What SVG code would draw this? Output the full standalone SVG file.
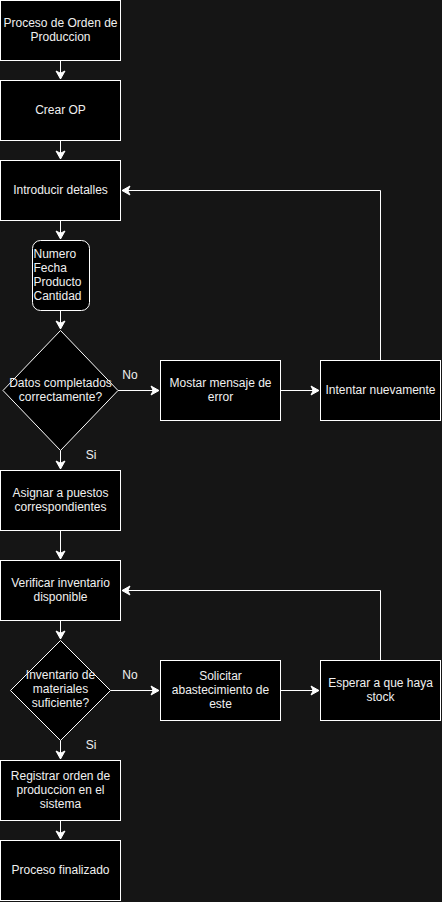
<svg xmlns="http://www.w3.org/2000/svg" width="442" height="902" viewBox="0 0 442 902">
<defs>
<marker id="arr" markerUnits="userSpaceOnUse" markerWidth="10" markerHeight="10" refX="8" refY="4.5" orient="auto" overflow="visible">
<path d="M0,0 L8,4.5 L0,9 L2.2,4.5 Z" fill="#ffffff" stroke="#ffffff" stroke-width="1"/>
</marker>
<style>
.n{fill:#000000;stroke:#ffffff;stroke-width:1}
.t{font-family:"Liberation Sans",Arial,Helvetica,sans-serif;font-size:12px;fill:#f0f0f0;text-anchor:middle}
.l{text-anchor:start}
.e{fill:none;stroke:#ffffff;stroke-width:1;marker-end:url(#arr)}
</style>
</defs>
<rect width="442" height="902" fill="#151515"/>
<g id="connectors">
<path class="e" d="M60.5,60.5 L60.5,79"/>
<path class="e" d="M60.5,140.5 L60.5,159"/>
<path class="e" d="M60.5,220.5 L60.5,239"/>
<path class="e" d="M60.5,310.5 L60.5,329"/>
<path class="e" d="M118,390.5 L159,390.5"/>
<path class="e" d="M280.5,390.5 L319,390.5"/>
<path class="e" d="M380.5,360.5 L380.5,190.5 L122,190.5"/>
<path class="e" d="M60.5,450.5 L60.5,469"/>
<path class="e" d="M60.5,530.5 L60.5,559"/>
<path class="e" d="M60.5,620.5 L60.5,639"/>
<path class="e" d="M110.5,690.5 L159,690.5"/>
<path class="e" d="M280.5,690.5 L319,690.5"/>
<path class="e" d="M380.5,660.5 L380.5,590.5 L122,590.5"/>
<path class="e" d="M60.5,740.5 L60.5,759"/>
<path class="e" d="M60.5,820.5 L60.5,839"/>
<text class="t" x="130" y="379">No</text>
<text class="t" x="91" y="459">Si</text>
<text class="t" x="130" y="679">No</text>
<text class="t" x="91" y="749">Si</text>
</g>
<g id="n1"><rect class="n" x="0.5" y="0.5" width="120" height="60"/><text class="t" x="60.5" y="27">Proceso de Orden de</text><text class="t" x="60.5" y="41">Produccion</text></g>
<g id="n2"><rect class="n" x="0.5" y="80.5" width="120" height="60"/><text class="t" x="60.5" y="114">Crear OP</text></g>
<g id="n3"><rect class="n" x="0.5" y="160.5" width="120" height="60"/><text class="t" x="60.5" y="194">Introducir detalles</text></g>
<g id="n4"><rect class="n" x="32.5" y="240.5" width="57" height="70" rx="8" ry="8"/><text class="t l" x="33.5" y="258">Numero</text><text class="t l" x="33.5" y="272">Fecha</text><text class="t l" x="33.5" y="286">Producto</text><text class="t l" x="33.5" y="300">Cantidad</text></g>
<g id="n5"><polygon class="n" points="60.5,330.5 118,390.5 60.5,450.5 3,390.5"/><text class="t" x="60.5" y="387">Datos completados</text><text class="t" x="60.5" y="401">correctamente?</text></g>
<g id="n6"><rect class="n" x="160.5" y="360.5" width="120" height="60"/><text class="t" x="220.5" y="387">Mostar mensaje de</text><text class="t" x="220.5" y="401">error</text></g>
<g id="n7"><rect class="n" x="320.5" y="360.5" width="120" height="60"/><text class="t" x="380.5" y="394">Intentar nuevamente</text></g>
<g id="n8"><rect class="n" x="0.5" y="470.5" width="120" height="60"/><text class="t" x="60.5" y="497">Asignar a puestos</text><text class="t" x="60.5" y="511">correspondientes</text></g>
<g id="n9"><rect class="n" x="0.5" y="560.5" width="120" height="60"/><text class="t" x="60.5" y="587">Verificar inventario</text><text class="t" x="60.5" y="601">disponible</text></g>
<g id="n10"><polygon class="n" points="60.5,640.5 110.5,690.5 60.5,740.5 10.5,690.5"/><text class="t" x="60.5" y="679">Inventario de</text><text class="t" x="60.5" y="693">materiales</text><text class="t" x="60.5" y="707">suficiente?</text></g>
<g id="n11"><rect class="n" x="160.5" y="660.5" width="120" height="60"/><text class="t" x="220.5" y="680">Solicitar</text><text class="t" x="220.5" y="694">abastecimiento de</text><text class="t" x="220.5" y="708">este</text></g>
<g id="n12"><rect class="n" x="320.5" y="660.5" width="120" height="60"/><text class="t" x="380.5" y="687">Esperar a que haya</text><text class="t" x="380.5" y="701">stock</text></g>
<g id="n13"><rect class="n" x="0.5" y="760.5" width="120" height="60"/><text class="t" x="60.5" y="780">Registrar orden de</text><text class="t" x="60.5" y="794">produccion en el</text><text class="t" x="60.5" y="808">sistema</text></g>
<g id="n14"><rect class="n" x="0.5" y="840.5" width="120" height="60"/><text class="t" x="60.5" y="874">Proceso finalizado</text></g>
</svg>
